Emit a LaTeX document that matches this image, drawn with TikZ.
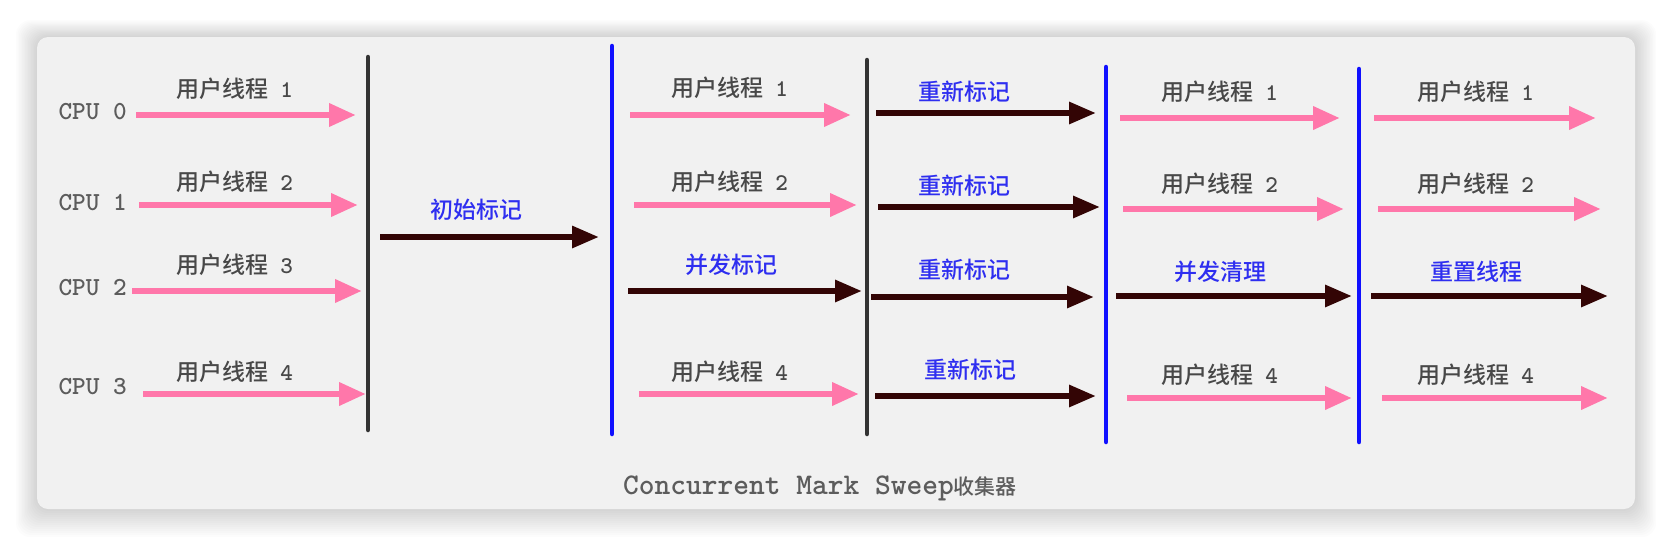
\documentclass[tikz,border=0pt]{standalone}
\usepackage{fontspec}
\newfontfamily\cjk{Noto Sans CJK SC}[UprightFont={* Medium}]
\usetikzlibrary{arrows.meta}
\definecolor{cmspink}{HTML}{FF77AA}
\definecolor{cmsdark}{HTML}{330505}
\definecolor{cmsblue}{HTML}{1010FF}
\definecolor{cmsbar}{HTML}{333333}
\definecolor{cmstext}{HTML}{484848}
\definecolor{cmscpu}{HTML}{5C5C5C}
\definecolor{cmslabel}{HTML}{2E2EF0}
\definecolor{cmspanel}{HTML}{F1F1F1}

\begin{document}
\begin{tikzpicture}[x=1pt,y=-1pt,
  userflow/.style={cmspink,line width=6.5pt,-{Triangle[length=27pt,width=22pt]}},
  gcflow/.style={cmsdark,line width=6pt,-{Triangle[length=27pt,width=21pt]}},
  stopbar/.style={line width=4.5pt,line cap=round},
  threadlabel/.style={text=cmstext,font=\cjk\fontsize{23}{23}\selectfont,inner sep=0pt},
  phaselabel/.style={text=cmslabel,font=\cjk\fontsize{23}{23}\selectfont,inner sep=0pt},
  cpulabel/.style={text=cmscpu,font=\ttfamily\bfseries\fontsize{26}{26}\selectfont,anchor=east,inner sep=0pt}]
  \fill[white] (0,0) rectangle (1672,546);
  \useasboundingbox (0,0) rectangle (1672,546);
  % soft shadow and panel
  \foreach \s in {1,...,14}
    \fill[black,opacity=0.012,rounded corners=14pt] (37-1.5*\s,37-1.2*\s) rectangle (1635+1.5*\s,509+2*\s);
  \fill[cmspanel,rounded corners=11pt] (37,37) rectangle (1635,509);

  % cpu labels
  \foreach \i/\yy in {0/112,1/203,2/288,3/387}
    \node[cpulabel] (cpu\i) at (127,\yy) {CPU \i};

  % stop-the-world and phase bars
  \foreach \b/\xx/\ya/\yb/\c in {1/368/57/430/cmsbar,2/612/46/434/cmsblue,3/867/60/434/cmsbar,4/1106/67/442/cmsblue,5/1359/69/442/cmsblue}{
    \coordinate (bar\b t) at (\xx,\ya);
    \coordinate (bar\b b) at (\xx,\yb);
    \draw[stopbar,\c] (bar\b t) -- (bar\b b);
  }

  % user threads
  \foreach \k/\xa/\xb/\yy in {a1/136/356/115,a2/139/358/205,a3/132/362/291,a4/143/366/394,
      b1/630/851/115,b2/634/857/205,b4/639/859/394,
      d1/1120/1340/118,d2/1123/1344/209,d4/1127/1352/398,
      e1/1374/1596/118,e2/1378/1601/209,e4/1382/1608/398}{
    \coordinate (us\k) at (\xa,\yy);
    \coordinate (ue\k) at (\xb,\yy);
    \draw[userflow] (us\k) -- (ue\k);
  }

  % collector threads
  \foreach \k/\xa/\xb/\yy in {init/380/599/237,b3/628/862/291,
      c1/876/1096/113,c2/878/1100/207,c3/871/1094/297,c4/875/1096/396,
      d3/1116/1352/296,e3/1371/1608/296}{
    \coordinate (gs\k) at (\xa,\yy);
    \coordinate (ge\k) at (\xb,\yy);
    \draw[gcflow] (gs\k) -- (ge\k);
  }

  % thread labels
  \foreach \k/\xx/\yy/\n in {a1/235/89/1,a2/235/182/2,a3/235/265/3,a4/235/372/4,
      b1/730/88/1,b2/730/182/2,b4/730/372/4,
      d1/1220/92/1,d2/1220/184/2,d4/1220/375/4,
      e1/1476/92/1,e2/1476/184/2,e4/1476/375/4}
    \node[threadlabel] (lu\k) at (\xx,\yy) {用户线程\hspace{0.5em}{\ttfamily\bfseries\fontsize{24}{24}\selectfont\n}};

  % phase labels
  \node[phaselabel] (linit) at (476,210) {初始标记};
  \node[phaselabel] (lb3) at (731,265) {并发标记};
  \node[phaselabel] (lc1) at (964,92) {重新标记};
  \node[phaselabel] (lc2) at (964,186) {重新标记};
  \node[phaselabel] (lc3) at (964,270) {重新标记};
  \node[phaselabel] (lc4) at (970,370) {重新标记};
  \node[phaselabel] (ld3) at (1220,272) {并发清理};
  \node[phaselabel] (le3) at (1476,272) {重置线程};

  % caption
  \node[text=cmscpu,inner sep=0pt] (caption) at (820,488)
    {{\ttfamily\bfseries\fontsize{30}{30}\selectfont Concurrent Mark Sweep}{\cjk\fontsize{21}{21}\selectfont 收集器}};
\end{tikzpicture}
\end{document}
